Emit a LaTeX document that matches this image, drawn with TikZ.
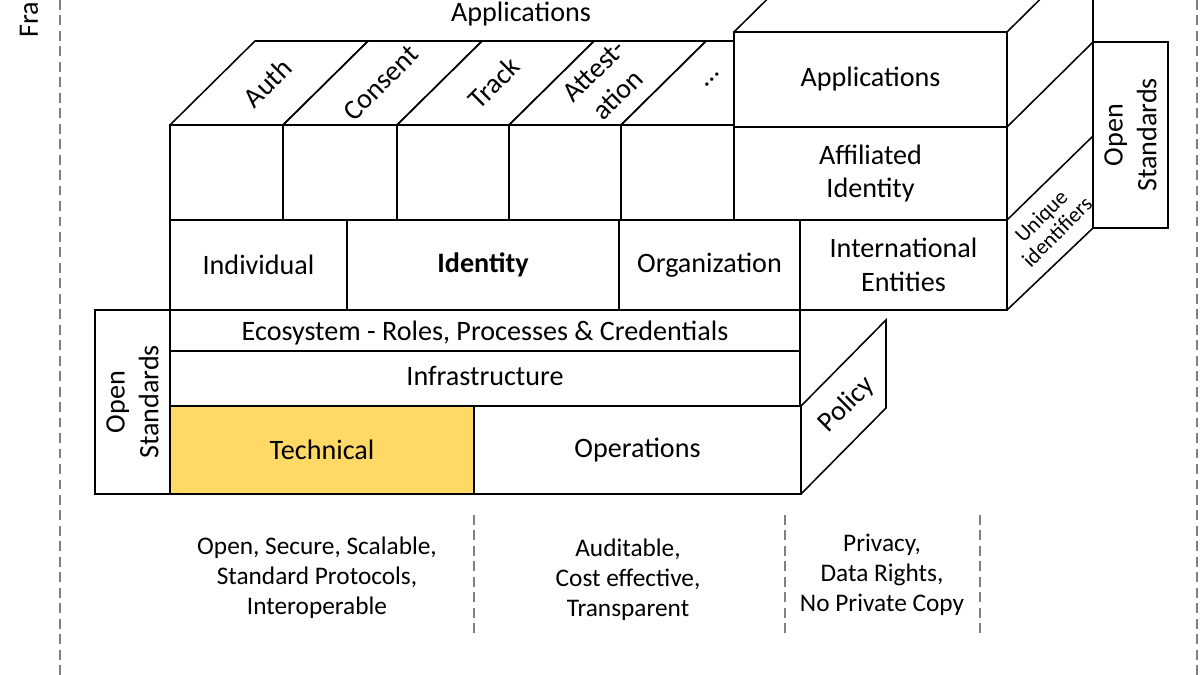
\documentclass[tikz,border=0pt]{standalone}
\usepackage{fontspec}
\setmainfont{Carlito}
\usepackage{xcolor}
\usetikzlibrary{positioning}
\definecolor{techyellow}{HTML}{FFD966}

\begin{document}
\begin{tikzpicture}[x=0.025cm, y=-0.025cm, line width=1.1pt,
    lbl/.style={font=\fontsize{20}{24}\selectfont, align=center, inner sep=0pt},
    small/.style={font=\fontsize{15.5}{16}\selectfont, align=center, inner sep=0pt},
    note/.style={font=\fontsize{18}{21.3}\selectfont, align=center},
    guide/.style={draw=gray, line width=0.8pt, dash pattern=on 7pt off 4pt},
    heavy/.style={line width=2pt}]
    \useasboundingbox (0,0) rectangle (1200,675);
    \clip (0,0) rectangle (1200,675);

    % Frame
    \draw[guide] (60,0) -- (60,675);
    \draw[guide] (1197,0) -- (1197,675);
    \node[lbl, rotate=90, anchor=west] (frame) at (29,38) {Fra};

    % Application modules
    \node[lbl] (apptitle) at (521,14) {Applications};
    \foreach \a/\b in {170/283, 283/397, 397/509, 509/621, 621/734}
        \draw (\a,125) rectangle (\b,220);
    \foreach \a/\b/\t [count=\i] in {170/283/Auth, 283/397/Consent, 397/509/Track, 509/621/{Attest-\\ation}} {
        \draw (\a,125) -- ++(85,-84) -- (\b+85,41) -- (\b,125);
        \node[lbl, rotate=45] (mod\i) at ({(\a+\b)/2+41},83) {\t};
    }
    \draw (621,125) -- (706,41) -- (734,41);
    \node[lbl, rotate=45] (mod5) at (712,80) {…};
    \draw[heavy] (170,125) -- (170,220) -- (734,220);

    % Application block
    \draw (734,32) rectangle (1007,127) node[midway, lbl] (apps) {Applications};
    \draw (734,127) rectangle (1007,220) node[midway, lbl] (affil) {Affiliated\\Identity};
    \draw (734,32) -- ++(86,-85);
    \draw (1007,32) -- ++(86,-85) -- (1093,42);
    \draw (1007,127) -- (1093,42);
    \draw (1007,220) -- (1093,136);
    \draw (1007,310) -- (1093,228);
    \node[small, rotate=45] (uid) at (1049,224) {Unique\\identifiers};
    \draw (1093,42) rectangle (1168,228) node[midway, lbl, rotate=90] (osright) {Open\\Standards};
    \draw[heavy] (1093,42) -- (1093,228);

    % Identity row
    \draw (170,220) rectangle (347,310) node[midway, lbl] (indiv) {Individual};
    \draw (347,220) rectangle (619,310) node[midway, lbl, font=\fontsize{20}{24}\selectfont\bfseries] (ident) {Identity};
    \draw (619,220) rectangle (800,310) node[midway, lbl] (org) {Organization};
    \draw (800,220) rectangle (1007,310) node[midway, lbl] (intl) {International\\Entities};

    % Foundation
    \draw (95,310) rectangle (170,494) node[midway, lbl, rotate=90] (osleft) {Open\\Standards};
    \draw (170,310) rectangle (800,351) node[midway, lbl, yshift=-1.5pt] (eco) {Ecosystem - Roles, Processes \& Credentials};
    \draw (170,351) rectangle (800,406) node[midway, lbl, yshift=2pt] (infra) {Infrastructure};
    \draw[fill=techyellow] (170,406) rectangle (474,494) node[midway, lbl] (tech) {Technical};
    \draw (474,406) rectangle (801,494) node[midway, lbl] (ops) {Operations};
    \draw (801,406) -- (886,320) -- (886,408) -- (801,494);
    \node[lbl, rotate=45] (policy) at (847,405) {Policy};
    \draw[heavy] (170,310) -- (170,494) -- (801,494);

    % Properties
    \draw[guide] (474,515) -- (474,638);
    \draw[guide] (785,515) -- (785,638);
    \draw[guide] (980,515) -- (980,638);
    \node[note] (technote) at (317,578) {Open, Secure, Scalable,\\Standard Protocols,\\Interoperable};
    \node[note] (opsnote) at (628,580) {Auditable,\\Cost effective,\\Transparent};
    \node[note] (polnote) at (882,575) {Privacy,\\Data Rights,\\No Private Copy};
\end{tikzpicture}
\end{document}
